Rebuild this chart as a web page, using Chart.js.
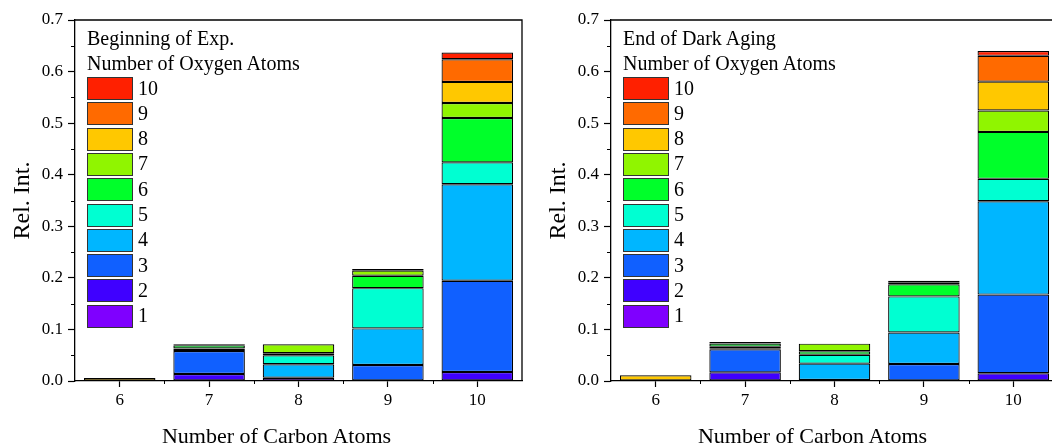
<!DOCTYPE html>
<html><head><meta charset="utf-8">
<script src="https://cdn.jsdelivr.net/npm/chart.js@4.4.0/dist/chart.umd.min.js"></script>
<style>
html,body{margin:0;padding:0;background:#fff;overflow:hidden;width:1052px;height:448px;position:relative;}
.wrap{position:absolute;top:0;width:540px;height:448px;}
.txt{position:absolute;font-family:'Liberation Serif','Times New Roman',serif;color:#000;white-space:nowrap;}
.box{position:absolute;width:44px;height:21px;border:1px solid #333;}
</style></head>
<body>
<div class="wrap" id="w1" style="left:0"><canvas id="c1" width="540" height="448"></canvas></div>
<div class="wrap" id="w2" style="left:536px"><canvas id="c2" width="540" height="448"></canvas></div>
<script>
const carbonLabels = ['6','7','8','9','10'];
const oxygenLabels = ['1','2','3','4','5','6','7','8','9','10'];
const oxygenColors = ['#7F00FF','#3F00FF','#1060FF','#00B6FF','#00FFD2','#00FF2A','#90F500','#FFC800','#FF6A00','#FF2000'];
const yTicks = [0,0.1,0.2,0.3,0.4,0.5,0.6,0.7];

// Beginning of Exp.
const begO1  = [0, 0, 0.0064, 0, 0];
const begO2  = [0, 0.0136, 0, 0, 0.0175];
const begO3  = [0, 0.0446, 0, 0.031, 0.177];
const begO4  = [0, 0.002, 0.026, 0.071, 0.187];
const begO5  = [0, 0.003, 0.0174, 0.078, 0.0425];
const begO6  = [0, 0.006, 0.004, 0.024, 0.086];
const begO7  = [0, 0.002, 0.0175, 0.010, 0.029];
const begO8  = [0.006, 0, 0, 0.0033, 0.041];
const begO9  = [0, 0, 0, 0, 0.044];
const begO10 = [0, 0, 0, 0, 0.013];

// End of Dark Aging
const endO1  = [0, 0, 0, 0, 0];
const endO2  = [0, 0.0168, 0, 0, 0.015];
const endO3  = [0, 0.0447, 0.002, 0.033, 0.1525];
const endO4  = [0, 0.002, 0.0316, 0.061, 0.181];
const endO5  = [0, 0.003, 0.0174, 0.070, 0.0435];
const endO6  = [0, 0.006, 0.0066, 0.0235, 0.091];
const endO7  = [0, 0.003, 0.0148, 0.004, 0.0415];
const endO8  = [0.011, 0, 0, 0.003, 0.056];
const endO9  = [0, 0, 0, 0, 0.050];
const endO10 = [0, 0, 0, 0, 0.0095];

const begSeries = [begO1,begO2,begO3,begO4,begO5,begO6,begO7,begO8,begO9,begO10];
const endSeries = [endO1,endO2,endO3,endO4,endO5,endO6,endO7,endO8,endO9,endO10];

const FONT = "'Liberation Serif','Times New Roman',serif";

const framePlugin = {
  id: 'frame',
  afterDraw(chart) {
    const {ctx, chartArea: a, scales: {x, y}} = chart;
    ctx.save();
    ctx.strokeStyle = '#000';
    ctx.lineWidth = 1.3;
    ctx.beginPath();
    ctx.moveTo(a.left, a.top); ctx.lineTo(a.right, a.top); ctx.lineTo(a.right, a.bottom);
    ctx.stroke();
    ctx.lineWidth = 1;
    ctx.beginPath();
    for (let k = 0; k < yTicks.length - 1; k++) {
      const py = Math.round(y.getPixelForValue((yTicks[k] + yTicks[k+1]) / 2)) + 0.5;
      ctx.moveTo(a.left - 4, py); ctx.lineTo(a.left, py);
    }
    for (let i = 0; i < carbonLabels.length - 1; i++) {
      const px = Math.round((x.getPixelForTick(i) + x.getPixelForTick(i+1)) / 2) + 0.5;
      ctx.moveTo(px, a.bottom); ctx.lineTo(px, a.bottom + 3);
    }
    ctx.stroke();
    ctx.restore();
  }
};

function makeChart(id, series, title, wrapId) {
  const datasets = series.map((vals, i) => ({
    label: oxygenLabels[i],
    data: vals,
    backgroundColor: oxygenColors[i],
    borderColor: '#000',
    borderWidth: 1.2,
    borderSkipped: false,
    barPercentage: 0.8,
    categoryPercentage: 1.0
  }));
  const chart = new Chart(document.getElementById(id), {
    type: 'bar',
    data: { labels: carbonLabels, datasets },
    plugins: [framePlugin],
    options: {
      responsive: false,
      animation: false,
      devicePixelRatio: 1,
      layout: { padding: { left: 0, right: 18, top: 20, bottom: 0 } },
      plugins: { legend: { display: false }, tooltip: { enabled: false } },
      scales: {
        x: {
          stacked: true,
          offset: true,
          grid: { display: true, offset: false, drawOnChartArea: false, drawTicks: true, tickLength: 6, color: '#000', tickWidth: 1.2 },
          border: { display: true, color: '#000', width: 1.3 },
          ticks: { color: '#000', font: { family: FONT, size: 17 }, padding: 3 },
          afterFit(s) { s.height = 67; }
        },
        y: {
          stacked: true,
          min: 0, max: 0.7,
          afterBuildTicks(s) { s.ticks = yTicks.map(v => ({ value: v })); },
          grid: { display: true, drawOnChartArea: false, drawTicks: true, tickLength: 7, color: '#000', tickWidth: 1.2 },
          border: { display: true, color: '#000', width: 1.3 },
          ticks: { color: '#000', font: { family: FONT, size: 17 }, padding: 5, callback: v => Number(v).toFixed(1) },
          title: { display: true, text: 'Rel. Int.', color: '#000', font: { family: FONT, size: 24, lineHeight: 1.2 }, padding: { top: 8, bottom: 0 } },
          afterFit(s) { s.width = 75; }
        }
      }
    }
  });
  // HTML legend built from the same series labels/colors
  const wrap = document.getElementById(wrapId);
  const a = chart.chartArea;
  const lx = a.left + 12;
  const t1 = document.createElement('div');
  t1.className = 'txt'; t1.style.fontSize = '20px'; t1.style.lineHeight = '25px';
  t1.style.left = lx + 'px'; t1.style.top = '26px';
  t1.innerHTML = title + '<br>Number of Oxygen Atoms';
  wrap.appendChild(t1);
  for (let i = oxygenLabels.length - 1; i >= 0; i--) {
    const row = oxygenLabels.length - 1 - i;
    const top = 77 + row * 25.3;
    const b = document.createElement('div');
    b.className = 'box';
    b.style.left = lx + 'px'; b.style.top = top + 'px';
    b.style.background = oxygenColors[i];
    wrap.appendChild(b);
    const l = document.createElement('div');
    l.className = 'txt'; l.style.fontSize = '20px'; l.style.lineHeight = '23px';
    l.style.left = (lx + 51) + 'px'; l.style.top = (top - 0.5) + 'px';
    l.textContent = oxygenLabels[i];
    wrap.appendChild(l);
  }
  const xt = document.createElement('div');
  xt.className = 'txt'; xt.style.fontSize = '22px'; xt.style.lineHeight = '26px';
  xt.style.top = '423px';
  xt.style.width = '300px'; xt.style.textAlign = 'center';
  xt.style.left = ((a.left + a.right) / 2 - 22 - 150) + 'px';
  xt.textContent = 'Number of Carbon Atoms';
  wrap.appendChild(xt);
  return chart;
}

makeChart('c1', begSeries, 'Beginning of Exp.', 'w1');
makeChart('c2', endSeries, 'End of Dark Aging', 'w2');
</script>
</body></html>
